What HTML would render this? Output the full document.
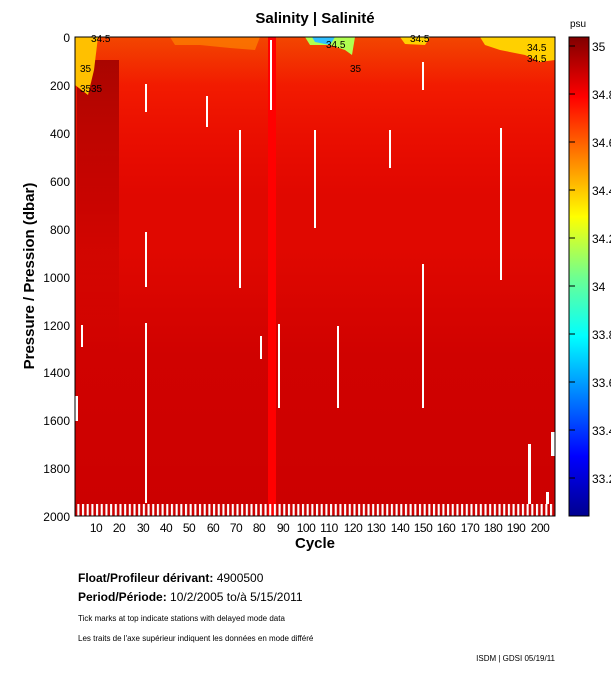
<!DOCTYPE html>
<html><head><meta charset="utf-8"><style>
body{margin:0;background:#fff;width:611px;height:675px;overflow:hidden;font-family:"Liberation Sans",sans-serif}
</style></head><body>
<svg width="611" height="675" xmlns="http://www.w3.org/2000/svg" font-family="Liberation Sans, sans-serif">
<defs>
<linearGradient id="cb" x1="0" y1="1" x2="0" y2="0">
<stop offset="0" stop-color="#00008f"/>
<stop offset="0.125" stop-color="#0000ff"/>
<stop offset="0.375" stop-color="#00ffff"/>
<stop offset="0.5" stop-color="#70ff8f" />
<stop offset="0.625" stop-color="#ffff00"/>
<stop offset="0.875" stop-color="#ff0000"/>
<stop offset="1" stop-color="#800000"/>
</linearGradient>
<linearGradient id="top" x1="0" y1="0" x2="0" y2="1">
<stop offset="0" stop-color="#ff7000"/>
<stop offset="0.3" stop-color="#ff2800"/>
<stop offset="1" stop-color="#ff1000" stop-opacity="0"/>
</linearGradient>
<linearGradient id="dk" x1="0" y1="0" x2="0" y2="1">
<stop offset="0" stop-color="#a00000" stop-opacity="0.9"/>
<stop offset="1" stop-color="#c00000" stop-opacity="0"/>
</linearGradient>
<linearGradient id="bot" x1="0" y1="0" x2="0" y2="1">
<stop offset="0" stop-color="#cc0000" stop-opacity="0"/>
<stop offset="0.4" stop-color="#cc0000" stop-opacity="0.8"/>
<stop offset="1" stop-color="#cc0000" stop-opacity="1"/>
</linearGradient>
<pattern id="bt" x="75" y="0" width="4.68" height="20" patternUnits="userSpaceOnUse">
<rect x="2.3" y="0" width="2.1" height="20" fill="#fff"/>
</pattern>
</defs>
<text x="315" y="23" font-size="15" font-weight="bold" text-anchor="middle">Salinity | Salinité</text>
<rect x="75" y="37" width="480" height="479" fill="#e00800"/>
<rect x="75" y="37" width="480" height="160" fill="url(#top)" opacity="0.6"/>
<rect x="75" y="250" width="480" height="266" fill="url(#bot)"/>
<rect x="77" y="60" width="42" height="300" fill="url(#dk)"/>
<rect x="268" y="37" width="8" height="479" fill="#ff0000"/>
<path d="M75 37 H98 L94 70 L88 95 L75 85Z" fill="#ffc000"/>
<path d="M305 37 H355 L352 55 L345 50 L330 45 L310 45Z" fill="#b0ff50"/>
<path d="M312 37 H335 L330 45 L315 42Z" fill="#30c0ff"/>
<path d="M400 37 H430 L425 45 L405 44Z" fill="#ffd000"/>
<path d="M480 37 H555 V60 L540 62 L525 55 L500 50 L485 45Z" fill="#ffd000"/>
<path d="M170 37 H260 L255 50 L230 48 L200 45 L175 45Z" fill="#ff9000" opacity="0.6"/>
<g fill="#fff">
<rect x="145" y="84" width="2" height="28"/>
<rect x="206" y="96" width="2" height="31"/>
<rect x="270" y="40" width="2" height="70"/>
<rect x="145" y="232" width="2" height="55"/>
<rect x="239" y="130" width="2" height="158"/>
<rect x="145" y="323" width="2" height="180"/>
<rect x="81" y="325" width="2" height="22"/>
<rect x="75" y="396" width="3" height="25"/>
<rect x="260" y="336" width="2" height="23"/>
<rect x="278" y="324" width="2" height="84"/>
<rect x="314" y="130" width="2" height="98"/>
<rect x="337" y="326" width="2" height="82"/>
<rect x="389" y="130" width="2" height="38"/>
<rect x="422" y="264" width="2" height="144"/>
<rect x="422" y="62" width="2" height="28"/>
<rect x="500" y="128" width="2" height="152"/>
<rect x="528" y="444" width="3" height="60"/>
<rect x="551" y="432" width="4" height="24"/>
<rect x="546" y="492" width="3" height="12"/>
<rect x="75" y="504" width="480" height="12" fill="url(#bt)"/>
</g>
<g font-size="10" fill="#000"><text x="91" y="42">34.5</text><text x="80" y="72">35</text><text x="80" y="92">35</text><text x="91" y="92">35</text><text x="326" y="48">34.5</text><text x="350" y="72">35</text><text x="410" y="42">34.5</text><text x="527" y="51">34.5</text><text x="527" y="62">34.5</text></g>
<rect x="75" y="37" width="480" height="479" fill="none" stroke="#000" stroke-width="1"/>
<g font-size="12" text-anchor="end">
<text x="70" y="42">0</text><text x="70" y="90">200</text><text x="70" y="138">400</text><text x="70" y="186">600</text><text x="70" y="234">800</text><text x="70" y="282">1000</text><text x="70" y="330">1200</text><text x="70" y="377">1400</text><text x="70" y="425">1600</text><text x="70" y="473">1800</text><text x="70" y="521">2000</text>
</g>
<text transform="translate(34,276) rotate(-90)" font-size="15" font-weight="bold" text-anchor="middle">Pressure / Pression (dbar)</text>
<g font-size="12" text-anchor="middle" letter-spacing="-0.5">
<text x="96" y="532">10</text><text x="119" y="532">20</text><text x="143" y="532">30</text><text x="166" y="532">40</text><text x="189" y="532">50</text><text x="213" y="532">60</text><text x="236" y="532">70</text><text x="259" y="532">80</text><text x="283" y="532">90</text><text x="306" y="532">100</text><text x="329" y="532">110</text><text x="353" y="532">120</text><text x="376" y="532">130</text><text x="400" y="532">140</text><text x="423" y="532">150</text><text x="446" y="532">160</text><text x="470" y="532">170</text><text x="493" y="532">180</text><text x="516" y="532">190</text><text x="540" y="532">200</text>
</g>
<text x="315" y="548" font-size="15" font-weight="bold" text-anchor="middle">Cycle</text>
<text x="570" y="27" font-size="10">psu</text>
<rect x="569" y="37" width="20" height="479" fill="url(#cb)" stroke="#000"/>
<g stroke="#000"><line x1="569" y1="46" x2="575" y2="46"/><line x1="569" y1="94" x2="575" y2="94"/><line x1="569" y1="142" x2="575" y2="142"/><line x1="569" y1="190" x2="575" y2="190"/><line x1="569" y1="238" x2="575" y2="238"/><line x1="569" y1="286" x2="575" y2="286"/><line x1="569" y1="334" x2="575" y2="334"/><line x1="569" y1="382" x2="575" y2="382"/><line x1="569" y1="430" x2="575" y2="430"/><line x1="569" y1="478" x2="575" y2="478"/></g>
<g font-size="12"><text x="592" y="51">35</text><text x="592" y="99">34.8</text><text x="592" y="147">34.6</text><text x="592" y="195">34.4</text><text x="592" y="243">34.2</text><text x="592" y="291">34</text><text x="592" y="339">33.8</text><text x="592" y="387">33.6</text><text x="592" y="435">33.4</text><text x="592" y="483">33.2</text></g>
<text x="78" y="582" font-size="12" font-weight="bold">Float/Profileur dérivant: <tspan font-weight="normal">4900500</tspan></text>
<text x="78" y="601" font-size="12" font-weight="bold">Period/Période: <tspan font-weight="normal">10/2/2005  to/à  5/15/2011</tspan></text>
<text x="78" y="621" font-size="8">Tick marks at top indicate stations with delayed mode data</text>
<text x="78" y="641" font-size="8">Les traits de l'axe supérieur indiquent les données en mode différé</text>
<text x="555" y="661" font-size="8" text-anchor="end">ISDM | GDSI  05/19/11</text>
</svg>
</body></html>
